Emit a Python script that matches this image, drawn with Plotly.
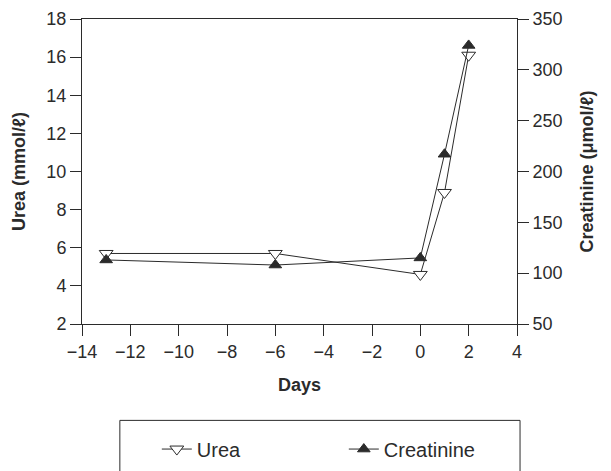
import plotly.graph_objects as go

# Values
days = [-13, -6, 0, 1, 2]
urea = [5.7, 5.7, 4.6, 8.9, 16.1]
creatinine = [113, 108, 115, 217, 324]

x_ticks = [-14, -12, -10, -8, -6, -4, -2, 0, 2, 4]
urea_ticks = [2, 4, 6, 8, 10, 12, 14, 16, 18]
creat_ticks = [50, 100, 150, 200, 250, 300, 350]

ink = "#2b2b2b"
font = "Liberation Sans, Arial, sans-serif"

fig = go.Figure()

fig.add_trace(go.Scatter(
    x=days, y=urea, name="Urea", mode="lines+markers",
    line=dict(color=ink, width=1),
    marker=dict(symbol="triangle-down", size=12, color="white",
                line=dict(color=ink, width=1)),
))

fig.add_trace(go.Scatter(
    x=days, y=creatinine, name="Creatinine", mode="lines+markers", yaxis="y2",
    line=dict(color=ink, width=1),
    marker=dict(symbol="triangle-up", size=11, color=ink,
                line=dict(color=ink, width=1)),
))

axis_common = dict(showgrid=False, zeroline=False, showline=True, linecolor=ink,
                   linewidth=1, ticks="outside", tickcolor=ink, ticklen=11,
                   automargin=False, ticklabeloverflow="allow",
                   tickfont=dict(size=18, color=ink, family=font))

# page body adds 8px offset, so margins are shifted accordingly
fig.update_layout(
    width=611, height=471,
    margin=dict(l=74, r=102, t=11, b=155),
    paper_bgcolor="white", plot_bgcolor="white",
    font=dict(family=font, color=ink),
    xaxis=dict(range=[-14, 4], tickvals=x_ticks, mirror=True,
               title=dict(text="<b>Days</b>", font=dict(size=18, color=ink), standoff=17),
               **axis_common),
    yaxis=dict(range=[2, 18], tickvals=urea_ticks,
               title=dict(text="<b>Urea (mmol/ℓ)</b>", font=dict(size=18, color=ink), standoff=16),
               **axis_common),
    yaxis2=dict(range=[50, 350], tickvals=creat_ticks, overlaying="y", side="right",
                title=dict(text="<b>Creatinine (μmol/ℓ)</b>", font=dict(size=18, color=ink), standoff=18),
                **axis_common),
    showlegend=True,
    legend=dict(orientation="h", x=0.172, xanchor="left", y=-0.41, yanchor="middle",
                font=dict(size=20, color=ink, family=font),
                entrywidth=142, entrywidthmode="pixels",
                bgcolor="rgba(0,0,0,0)", borderwidth=0),
    shapes=[dict(type="rect", xref="paper", yref="paper",
                 x0=0.087, x1=1.007, y0=-0.316, y1=-0.56,
                 line=dict(color=ink, width=1))],
)

fig.write_html("out.html")
